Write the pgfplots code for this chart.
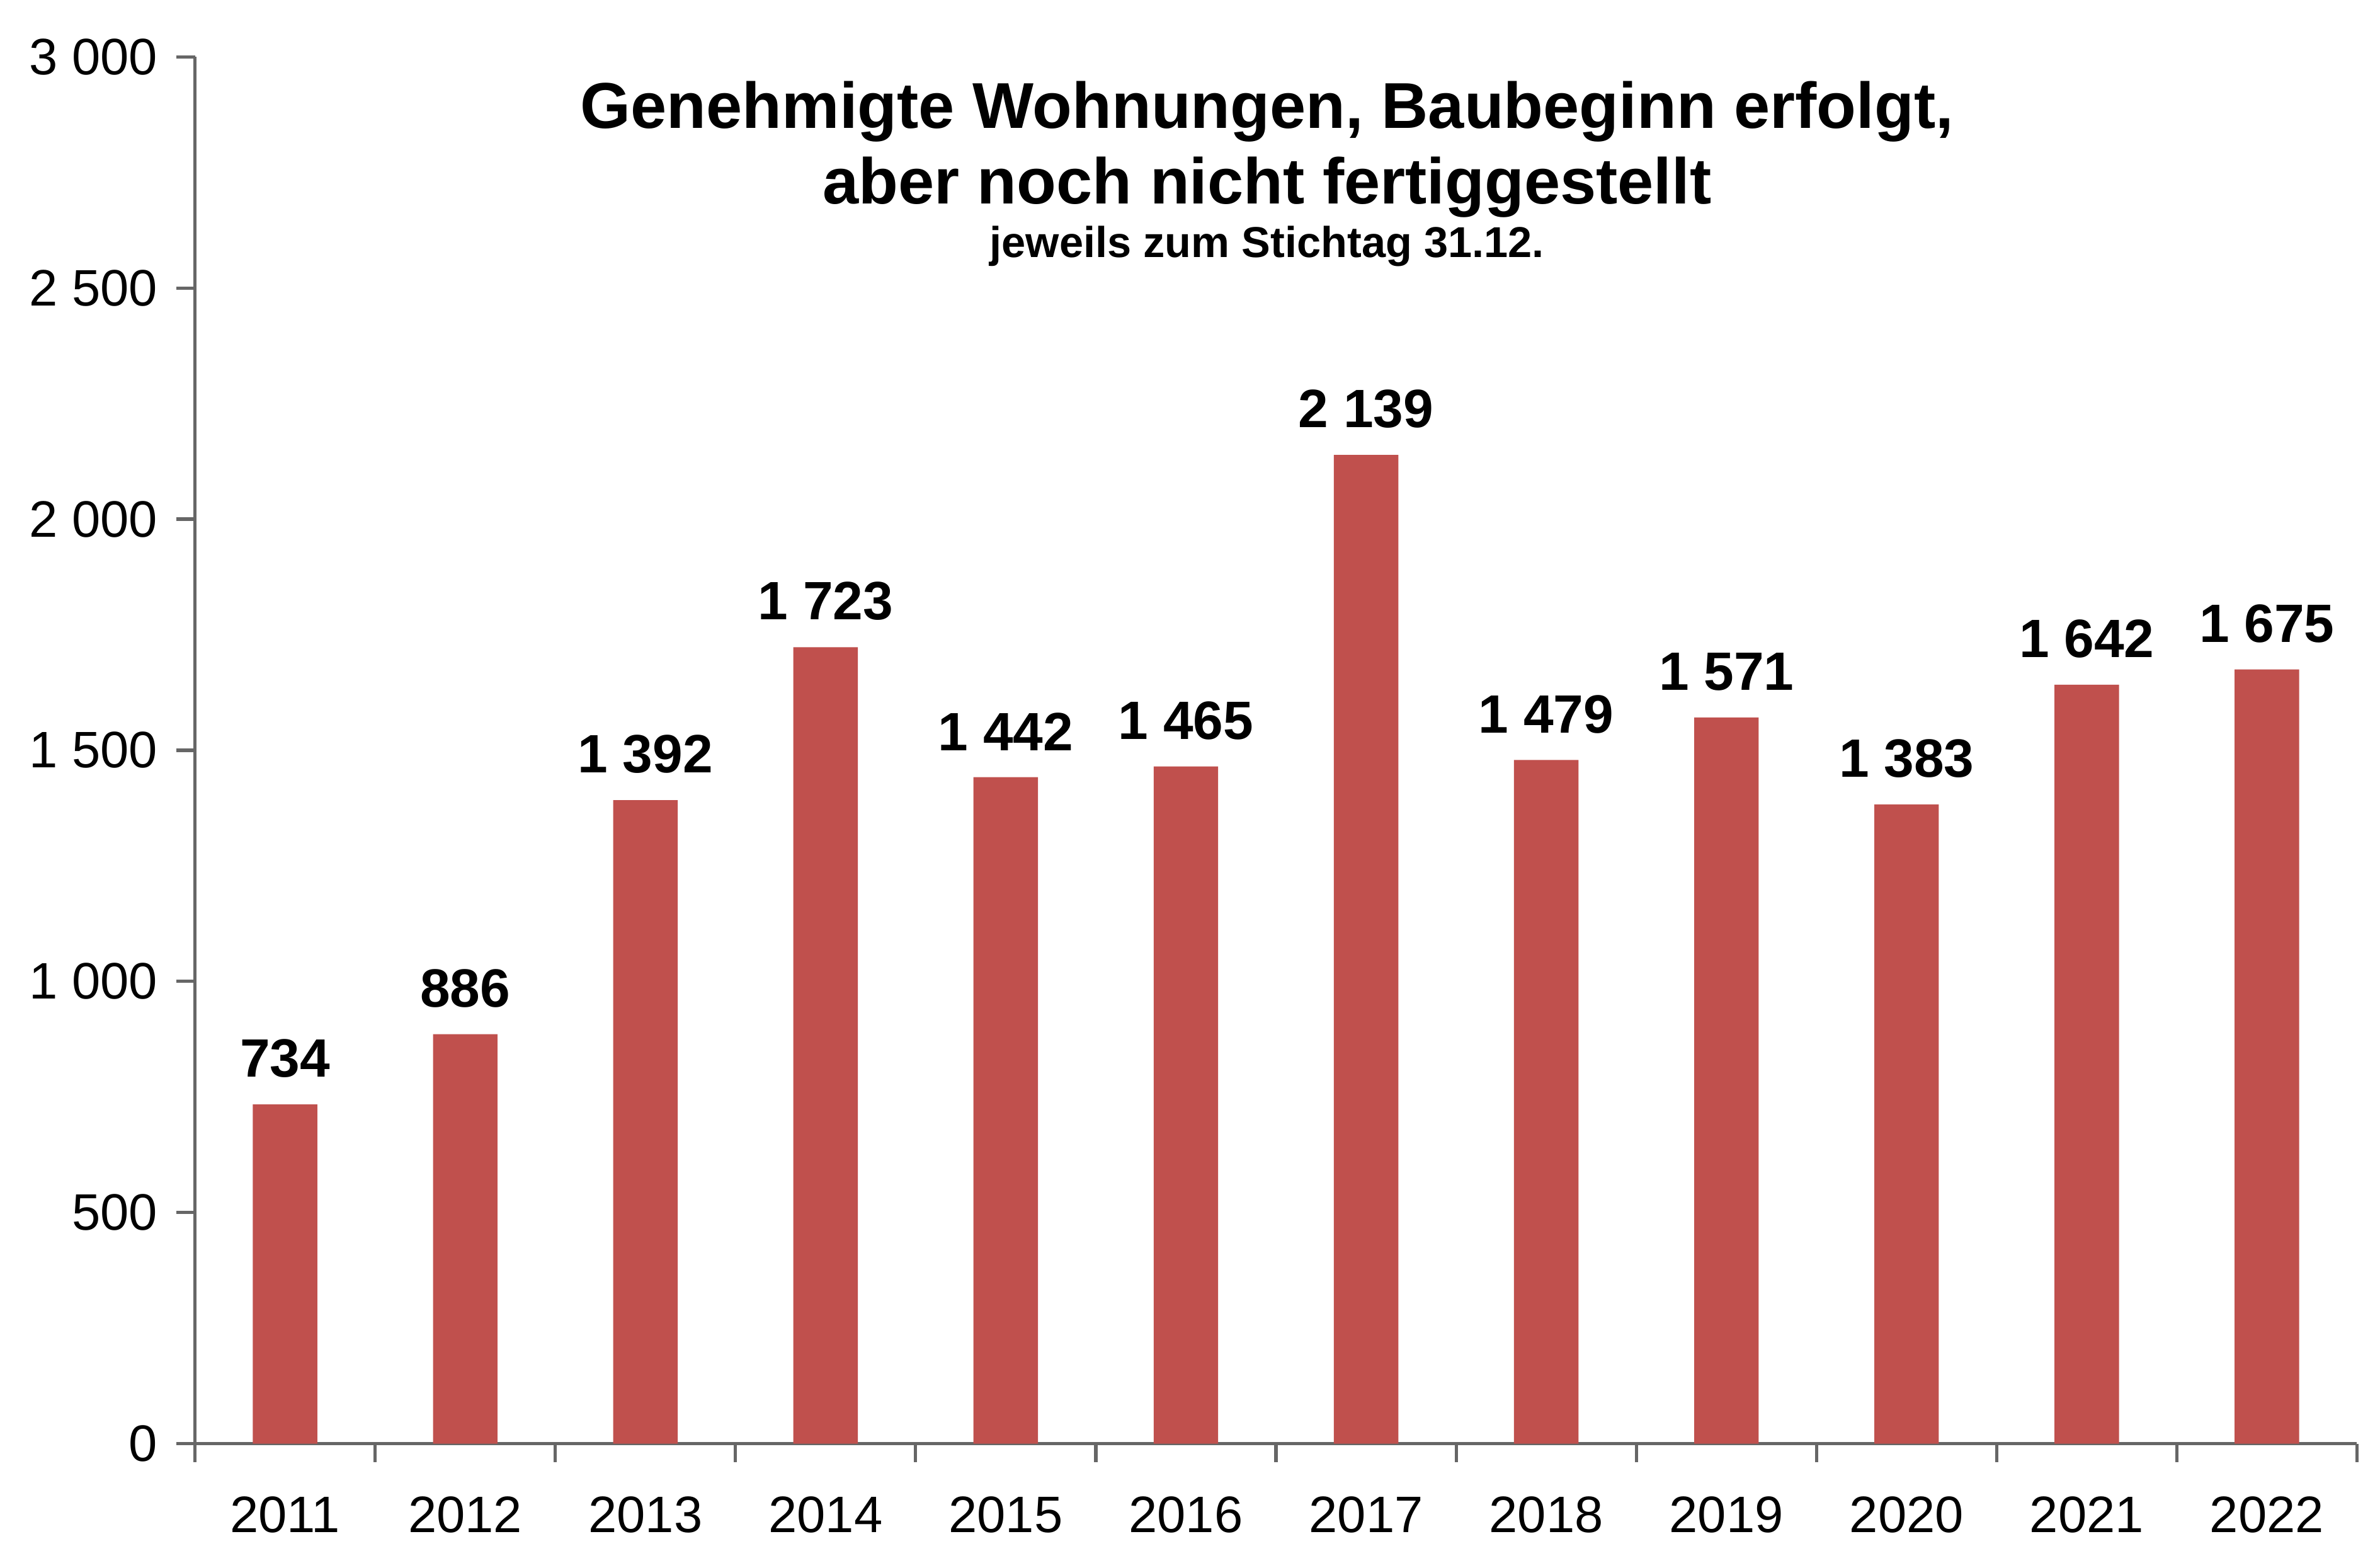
\documentclass[border=0pt]{standalone}
\usepackage{pgfplots}
\pgfplotsset{compat=1.18}
\usepackage{fontspec}
\setmainfont{Liberation Sans}
\definecolor{barred}{HTML}{C0504D}
\begin{document}
\begin{tikzpicture}
\begin{axis}[
  scale only axis, width=14.08cm, height=9.03cm,
  ymin=0, ymax=3000, xmin=-0.5, xmax=11.5,
  ytick={0,500,...,3000},
  xtick={0,...,11},
  xticklabels={2011,2012,2013,2014,2015,2016,2017,2018,2019,2020,2021,2022},
  minor xtick={-0.5,0.5,...,11.5},
  major x tick style={draw=none},
  minor tick length=0.12cm,
  major tick length=0.12cm,
  tick align=outside,
  axis x line*=bottom, axis y line*=left,
  axis line style={gray!80!black, line width=0.6pt},
  every tick/.style={gray!80!black, line width=0.6pt},
  tick label style={font=\fontsize{9.5}{11}\selectfont},
  /pgf/number format/assume math mode=true,
  /pgf/number format/1000 sep={\ },
  yticklabel style={/pgf/number format/fixed},
  xticklabel style={yshift=-0.1cm},
  enlargelimits=false, clip=false,
  nodes near coords,
  every node near coord/.append style={font=\bfseries\fontsize{10}{12}\selectfont, black, yshift=0.05cm},
]
\addplot[ybar, bar width=0.42cm, fill=barred, draw=none] coordinates {
(0,734) (1,886) (2,1392) (3,1723) (4,1442) (5,1465) (6,2139) (7,1479) (8,1571) (9,1383) (10,1642) (11,1675)};
\node[align=center, font=\bfseries\fontsize{12}{14}\selectfont] at (axis cs:5.45,2800) {Genehmigte Wohnungen, Baubeginn erfolgt,\\aber noch nicht fertiggestellt};
\node[font=\bfseries\fontsize{8}{10}\selectfont] at (axis cs:5.45,2590) {jeweils zum Stichtag 31.12.};
\end{axis}
\path (current axis.south west) ++(-1.27,-0.62) rectangle ++(15.5,10.02);
\end{tikzpicture}
\end{document}
